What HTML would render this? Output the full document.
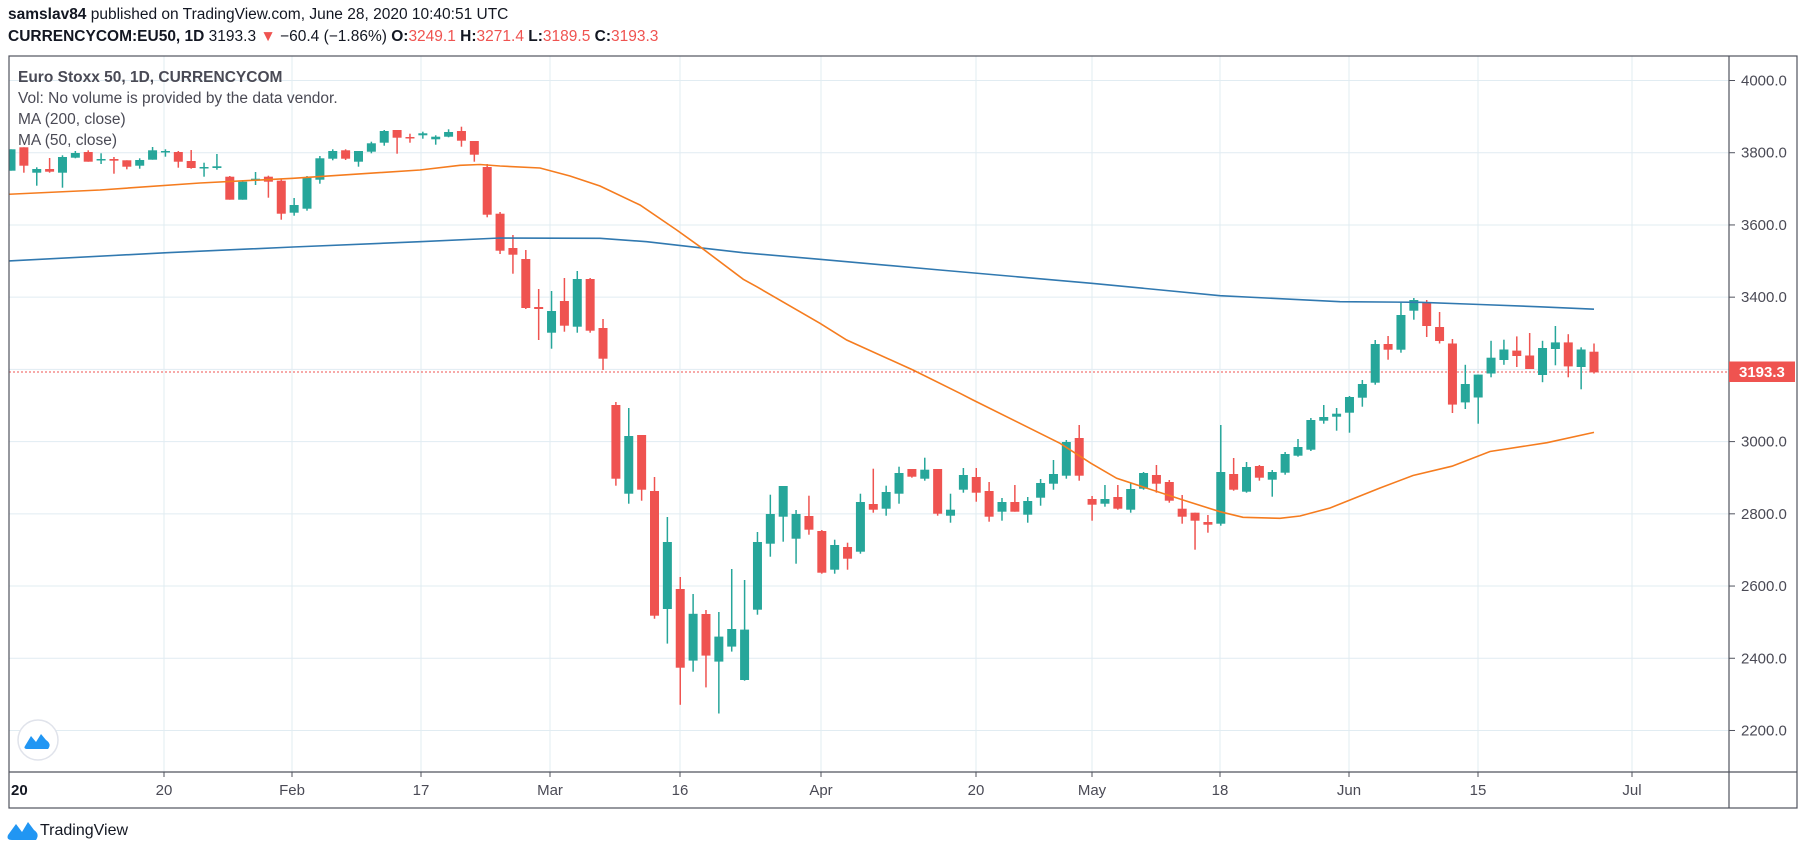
<!DOCTYPE html>
<html><head><meta charset="utf-8"><style>
html,body{margin:0;padding:0;background:#fff;}
body{width:1805px;height:851px;position:relative;overflow:hidden;font-family:"Liberation Sans",Arial,sans-serif;}
.h{position:absolute;left:8px;font-size:15.5px;color:#131722;white-space:nowrap;}
.r{color:#ef5350;}
</style></head><body>
<div class="h" style="top:6px;"><b>samslav84</b> published on TradingView.com, June 28, 2020 10:40:51 UTC</div>
<div class="h" style="top:28px;"><b>CURRENCYCOM:EU50, 1D</b> 3193.3 <span class="r">▼</span> −60.4 (−1.86%) <b>O:</b><span class="r">3249.1</span> <b>H:</b><span class="r">3271.4</span> <b>L:</b><span class="r">3189.5</span> <b>C:</b><span class="r">3193.3</span></div>
<svg id="s" width="1805" height="851" style="position:absolute;left:0;top:0" xmlns="http://www.w3.org/2000/svg">
<defs><clipPath id="c"><rect x="9" y="56" width="1720" height="716"/></clipPath></defs>
<g id="grid" stroke="#e1ecf2" stroke-width="1"></g>
<line x1="9" y1="372" x2="1729" y2="372" stroke="#ef5350" stroke-width="1" stroke-dasharray="2,2"/>
<g id="cd" clip-path="url(#c)"></g>
<g clip-path="url(#c)" fill="none" stroke-width="1.6">
<polyline stroke="#3179b0" points="8,261 167,252.7 293,247 420,241.7 500,238 600,238.3 646.7,241.7 743,252.7 820,259.3 940,270 1091.7,283.3 1220,295.7 1340,301.7 1420,302.3 1480,304.5 1540,306.8 1594,309.2"/>
<polyline stroke="#f57c1f" points="8,194.3 100,190 200,183 293,178.3 420,170 460,165.3 480,164.5 500,166 540,168 570,176 600,186 640,205 676.7,230 700,246.7 743.3,279.3 756.7,286.7 820,323.3 846.7,340 913,370 960,393.3 973,400 1060,443.3 1091,463.3 1116.7,478.3 1183,500 1220,511.7 1243,517.3 1280,518.3 1300,516 1330,508 1355,498 1380,488 1413,475.5 1452,466.2 1490,451.5 1547,442.7 1594,432.4"/>
</g>
<rect x="9" y="56" width="1788" height="752" fill="none" stroke="#50535e" stroke-width="1.2"/>
<line x1="1729" y1="56" x2="1729" y2="808" stroke="#50535e" stroke-width="1.2"/>
<line x1="9" y1="772" x2="1797" y2="772" stroke="#50535e" stroke-width="1.2"/>
<g id="ax" font-family="Liberation Sans, Arial, sans-serif" font-size="15" fill="#4a4a55"></g>
<rect x="1729" y="361.5" width="66" height="20.5" fill="#ef5350"/>
<text x="1739" y="377" font-family="Liberation Sans, Arial, sans-serif" font-size="15" font-weight="bold" fill="#fff">3193.3</text>
<text x="18" y="82" font-family="Liberation Sans, Arial, sans-serif" font-size="15.5" font-weight="bold" fill="#4a4a55">Euro Stoxx 50, 1D, CURRENCYCOM</text>
<text x="18" y="103" font-family="Liberation Sans, Arial, sans-serif" font-size="15.5" fill="#4a4a55">Vol: No volume is provided by the data vendor.</text>
<text x="18" y="124" font-family="Liberation Sans, Arial, sans-serif" font-size="15.5" fill="#4a4a55">MA (200, close)</text>
<text x="18" y="145" font-family="Liberation Sans, Arial, sans-serif" font-size="15.5" fill="#4a4a55">MA (50, close)</text>
<circle cx="38" cy="740" r="20" fill="#fff" stroke="#e0e3eb" stroke-width="1.5"/>
<path d="M25,746 L31,736 L36,742 L41,734 L46,740 Q52,744 48,749 L28,749 Q23,749 25,746 Z" fill="#2196f3"/>
<path d="M8,835 L16,824 L22,832 L28,822 L34,830 Q40,834 36,840 L12,840 Q6,840 8,835 Z" fill="#2196f3"/>
<text x="40" y="835" font-family="Liberation Sans, Arial, sans-serif" font-size="16" fill="#131722">TradingView</text>
</svg>
<script>
var D=[
['g',149.3,170.7,149.3,170.7],['r',147.3,165.7,147.3,172.7],['g',169,172.7,167.3,185.7],['r',169,171.7,158,172.7],['g',157,172.7,155.3,187.7],
['g',153,157.7,151,158.3],['r',152,161.7,150.3,161.7],['g',159,159.7,153.3,164],['r',159,160.7,157,173.7],['r',160.3,166.7,160.3,169.3],
['g',160,165.7,158.3,168.7],['g',150.3,159.7,147,159.7],['g',151,152.3,149.3,156.7],['r',152,161.7,151,167.7],['r',161,168,150,168.7],
['g',167,168.3,162.7,176.7],['g',166.3,168,154,169.7],['r',176.7,199.7,176,199.7],['g',181.7,199.7,180,199.7],['g',178.7,180.7,172,185],
['r',176.7,181.7,175.7,197.7],['r',180.7,213.7,179.3,219.7],['g',205,212.7,198,215.7],['g',177.7,208.7,176,210.7],['g',158.3,179.7,156,183.7],
['g',151,158.7,149.3,160.3],['r',150.3,158.7,149.3,160],['g',151,161.7,151,166.7],['g',143.3,151.7,141.7,153.3],['g',131,142.7,130,145.7],
['r',130,137.7,130,153.7],['r',137,138,133.7,142.7],['g',133.3,135.3,131.7,138.7],['g',136.7,139.3,135.3,144.7],['g',132,136.7,129.3,137.3],
['r',131,140.7,126.7,146.7],['r',141,154.7,141,161.7],['r',167,214.7,164,217.3],['r',213.7,250.7,212,254],['r',248,254.7,235,273.7],
['r',259,308,250,309],['r',307,309,289,340],['g',311,332.7,291,348.7],['r',301,325.7,278,331.7],['g',279,326.7,271,332.7],
['r',279,330.7,278,332.7],['r',328,358.7,319,370],['r',405,478.7,402,485.7],['g',436,493.7,408,503.7],['r',435,489.7,435,500.7],
['r',491,615.7,477,618.7],['g',542,609,517,643.6],['r',589,667.7,577,704.8],['g',613.8,660.6,594,671.7],['r',614,655.6,610,687.4],
['g',636.6,661.6,612,713.5],['g',629,646.6,569,651.6],['g',629.6,680,580,680.7],['g',542,609.7,532,614.7],['g',514,543.7,494.7,556.7],
['g',486,516.7,486,541.7],['g',514,538.7,510,563.7],['r',516,529.7,495.7,534.7],['r',531,572.7,530,573.7],['g',545,569.7,539.7,573.7],
['r',547,558.7,542.7,569.7],['g',502,551.7,493.7,553.7],['r',504,509.7,468.7,512.7],['g',492,508.7,485.7,515.7],['g',473,493.7,466.7,503.7],
['r',469,476.7,469,477.7],['g',469.7,478.7,457.7,480.7],['r',469,513.7,469,515.7],['g',509.7,515.7,493.7,522.7],['g',475,489.7,468,492.7],
['r',477,492.7,468,501.7],['r',491,516.7,482,521.7],['g',502,511.7,498,520.7],['r',502,511.7,485,511.7],['g',501,514.7,497,522.7],
['g',483,497.7,479,505.7],['g',474,483.7,460,489.7],['g',442,475.7,440,478.7],['r',438,475.7,425,480.7],['r',499,504.7,496,520.7],
['g',499,503.7,485,506.7],['r',497,508.7,485,509.7],['g',489,509.7,483,512.7],['g',473,488.7,472,489.7],['r',475,483.7,465,492.7],
['r',482,500.7,480,502.7],['r',508.7,516.7,495,523.7],['r',512.7,520.7,512.7,549.7],['r',522,524.7,515,532.7],['g',472,523.7,425,525.7],
['r',474,489.7,458,490.7],['g',467,491.7,462,492.7],['r',466,477.7,465,480.7],['g',472,479.7,470,496.7],['g',454,472.7,452,474.7],
['g',447,455.7,439,456.7],['g',420,449.7,418,451],['g',417,420.7,405,423.7],['g',413.7,416.7,408,430.7],['g',397,412.7,396,432.7],
['g',384,397.7,380,406.7],['g',344,382.7,340,384.7],['r',344,349.7,336,359.7],['g',315,349.7,302.7,352.7],['g',300,310.7,298,319.7],
['r',303,326,300,337],['r',327,341,312,343.5],['r',343.5,404.6,339,413],['g',384,402.4,364.8,409],['g',374.6,397.5,374.6,423.7],
['g',357.7,373.5,340.8,377.3],['g',349.5,360,339.7,364.8],['r',350.6,356,336.4,367],['r',355.5,369,333,369],['g',348,375,340.8,382.2],
['g',342.4,349,326,365.3],['r',342.4,366.4,334.2,377.3],['g',349.5,367,347.3,389.3],['r',351.7,372.4,343.5,373.5]];
var ns="http://www.w3.org/2000/svg",cd=document.getElementById('cd'),h='';
for(var i=0;i<D.length;i++){var d=D[i],x=11+i*12.87,c=d[0]=='g'?'#26a69a':'#ef5350';
var bh=Math.max(d[2]-d[1],1.5);
h+='<line x1="'+x+'" x2="'+x+'" y1="'+d[3]+'" y2="'+d[4]+'" stroke="'+c+'" stroke-width="1.5"/>';
h+='<rect x="'+(x-4.5)+'" y="'+d[1]+'" width="9" height="'+bh+'" fill="'+c+'"/>';}
cd.innerHTML=h;
var g='',a='';
for(var k=0;k<10;k++){var y=80.5+k*72.22;if(y<772){g+='<line x1="9" x2="1729" y1="'+y+'" y2="'+y+'"/>';
a+='<line x1="1729" x2="1735" y1="'+y+'" y2="'+y+'" stroke="#50535e"/><text x="1741" y="'+(y+5)+'">'+(4000-k*200)+'.0</text>';}}
var T=[[164,'20'],[292,'Feb'],[421,'17'],[550,'Mar'],[680,'16'],[821,'Apr'],[976,'20'],[1092,'May'],[1220,'18'],[1349,'Jun'],[1478,'15'],[1632,'Jul']];
for(var j=0;j<T.length;j++){var tx=T[j][0];g+='<line x1="'+tx+'" x2="'+tx+'" y1="56" y2="772"/>';
a+='<line x1="'+tx+'" x2="'+tx+'" y1="772" y2="777" stroke="#50535e"/><text x="'+tx+'" y="795" text-anchor="middle">'+T[j][1]+'</text>';}
a+='<text x="11" y="795" font-weight="bold" fill="#131722">20</text>';
document.getElementById('grid').innerHTML=g;document.getElementById('ax').innerHTML=a;
</script>
</body></html>
